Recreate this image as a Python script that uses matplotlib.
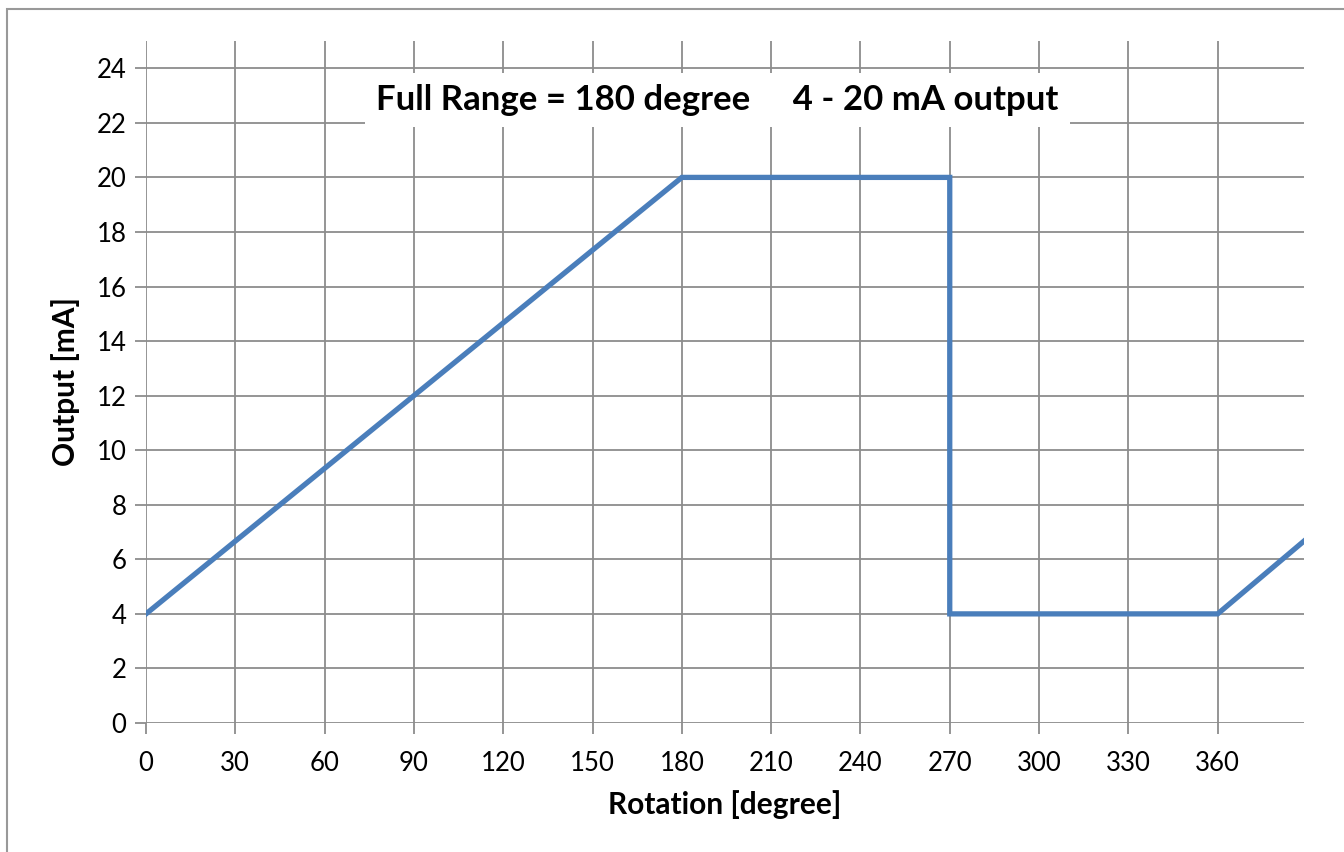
import matplotlib.pyplot as plt
from matplotlib.patches import Rectangle

# output curve: 4-20 mA over 180 degree, drop at 270, rise again after 360
rotation = [0, 180, 270, 270, 360, 389]
output = [4, 20, 20, 4, 4, 6.67]
x_ticks = [0, 30, 60, 90, 120, 150, 180, 210, 240, 270, 300, 330, 360]
y_ticks = [0, 2, 4, 6, 8, 10, 12, 14, 16, 18, 20, 22, 24]

plt.rcParams['font.family'] = ['Lato', 'DejaVu Sans']
grid_c = '#8c8c8c'

fig = plt.figure(figsize=(13.44, 8.52), dpi=100)
ax = fig.add_axes([146/1344, 1 - 723/852, (1304 - 146)/1344, (723 - 41)/852])

# chart frame
fig.patches.append(Rectangle((7/1344, -0.1), 1.2, 1 - 9/852 + 0.1, transform=fig.transFigure,
                             fill=False, edgecolor='#999999', lw=1.5))

ax.plot(rotation, output, color='#4a7ebb', lw=3.8, solid_joinstyle='miter', zorder=3)

ax.set_xlim(0, 389)
ax.set_ylim(0, 25)
ax.set_xticks(x_ticks)
ax.set_yticks(y_ticks)
ax.grid(True, color=grid_c, lw=1.3)
ax.set_axisbelow(True)
for s in ax.spines.values():
    s.set_visible(False)
ax.tick_params(axis='both', length=8, width=1.3, color=grid_c, labelsize=18.5, pad=6)
ax.tick_params(axis='x', pad=12)

ax.set_xlabel('Rotation [degree]', fontsize=21.5, fontweight='bold', labelpad=10)
ax.set_ylabel('Output [mA]', fontsize=21.5, fontweight='bold', labelpad=12)

ax.text(192, 22.85, 'Full Range = 180 degree     4 - 20 mA output', fontsize=25,
        fontweight='bold', ha='center', va='center', zorder=4,
        bbox=dict(facecolor='white', edgecolor='none', pad=8))

plt.savefig('out.png', dpi=100)
